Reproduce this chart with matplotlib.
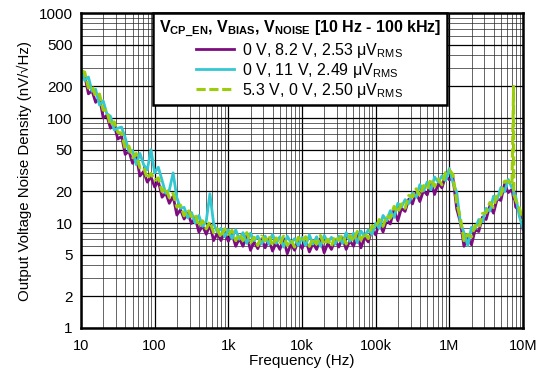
import matplotlib
matplotlib.use("Agg")
import matplotlib.pyplot as plt
from matplotlib.ticker import FixedLocator, FixedFormatter, LogLocator, NullFormatter

plt.rcParams['font.family'] = ['Liberation Sans', 'DejaVu Sans']
plt.rcParams['mathtext.fontset'] = 'custom'
plt.rcParams['mathtext.rm'] = 'Liberation Sans'
plt.rcParams['mathtext.it'] = 'Liberation Sans:italic'
plt.rcParams['mathtext.bf'] = 'Liberation Sans:bold'

# frequency points (Hz)
freq = [10, 11.2, 12.6, 14.1, 15.8, 17.8, 20, 22.4, 25.1, 28.2,
        31.6, 35.5, 39.8, 44.7, 50.1, 56.2, 63.1, 70.8, 79.4, 89.1,
        100, 112, 126, 141, 158, 178, 200, 224, 251, 282,
        316, 355, 398, 447, 501, 562, 631, 708, 794, 891,
        1e3, 1.12e3, 1.26e3, 1.41e3, 1.58e3, 1.78e3, 2e3, 2.24e3, 2.51e3, 2.82e3,
        3.16e3, 3.55e3, 3.98e3, 4.47e3, 5.01e3, 5.62e3, 6.31e3, 7.08e3, 7.94e3, 8.91e3,
        1e4, 1.12e4, 1.26e4, 1.41e4, 1.58e4, 1.78e4, 2e4, 2.24e4, 2.51e4, 2.82e4,
        3.16e4, 3.55e4, 3.98e4, 4.47e4, 5.01e4, 5.62e4, 6.31e4, 7.08e4, 7.94e4, 8.91e4,
        1e5, 1.12e5, 1.26e5, 1.41e5, 1.58e5, 1.78e5, 2e5, 2.24e5, 2.51e5, 2.82e5,
        3.16e5, 3.55e5, 3.98e5, 4.47e5, 5.01e5, 5.62e5, 6.31e5, 7.08e5, 7.94e5, 8.91e5,
        1e6, 1.12e6, 1.26e6, 1.41e6, 1.58e6, 1.78e6, 2e6, 2.24e6, 2.51e6, 2.82e6,
        3.16e6, 3.55e6, 3.98e6, 4.47e6, 5.01e6, 5.62e6, 6.31e6, 7.08e6, 7.45e6, 7.5e6,
        7.94e6, 8.91e6, 1e7]

# 0 V, 8.2 V
noise_a = [241, 255, 170, 182, 141, 158, 100, 106, 80, 86,
           63, 67, 45, 48.5, 37, 43, 28, 31, 24.5, 27.5,
           22, 25, 17.6, 19.4, 15.4, 18, 11.9, 13.4, 10.9, 12.4,
           9.9, 11.2, 8.2, 9.4, 7.8, 9.6, 6.8, 8.0, 6.8, 8.2,
           6.7, 7.9, 6.0, 7.1, 6.0, 7.6, 5.5, 6.6, 5.7, 7.0,
           5.8, 7.0, 5.4, 6.5, 5.6, 7.1, 5.1, 6.3, 5.5, 6.7,
           5.7, 6.9, 5.3, 6.4, 5.6, 7.1, 5.2, 6.4, 5.6, 6.9,
           5.9, 7.2, 5.6, 6.8, 6.0, 7.8, 5.8, 7.3, 6.6, 8.7,
           7.7, 10.0, 8.2, 10.6, 9.8, 13.5, 10.5, 13.8, 12.9, 16.9,
           15.2, 19.7, 16.0, 20.4, 18.5, 24.6, 18.7, 23.8, 21.6, 28.0,
           25.8, 27.0, 13.6, 10.2, 6.0, 7.3, 6.2, 8.6, 8.3, 11.4,
           10.8, 14.6, 12.4, 17.0, 16.4, 23.5, 19.5, 20.9, 17.0, 20.4,
           14.2, 13.0, 8.8]

# 0 V, 11 V
noise_b = [300, 228, 246, 180, 188, 133, 146, 110, 104, 77,
           80, 82, 65, 48, 49, 36, 46, 36, 32, 50,
           30, 34, 25.5, 19.2, 20.5, 30, 17.4, 13.8, 14.1, 11.2,
           12.6, 10.0, 11.8, 9.3, 10.4, 19, 9.9, 8.2, 8.9, 7.4,
           8.6, 7.1, 8.6, 7.0, 8.1, 6.4, 8.0, 6.8, 7.5, 6.3,
           7.5, 6.3, 7.8, 6.4, 7.4, 5.9, 7.5, 6.5, 7.1, 6.1,
           7.3, 6.1, 7.7, 6.3, 7.4, 6.0, 7.6, 6.6, 7.3, 6.3,
           7.5, 6.4, 8.1, 6.7, 8.0, 6.5, 8.4, 7.5, 8.6, 7.8,
           9.9, 8.9, 11.8, 10.5, 13.1, 11.3, 15.4, 14.2, 16.7, 15.3,
           19.5, 17.6, 23.2, 20.2, 24.6, 20.7, 27.4, 24.5, 28.1, 25.3,
           33, 24.2, 19.7, 10.1, 8.1, 6.1, 9.1, 8.8, 10.8, 10.3,
           13.8, 13.0, 18.0, 16.8, 21.8, 19.8, 26, 21.6, 22.1, 18.4,
           18.2, 11.6, 9.0]

# 5.3 V, 0 V
noise_c = [280, 274, 193, 203, 160, 169, 119, 118, 85, 92,
           73, 72, 51, 54, 42, 46, 33.5, 34, 26.3, 29.7,
           25.5, 26.9, 20, 21.6, 17.4, 19.2, 14.2, 14.8, 11.7, 13.4,
           11.5, 12.1, 9.3, 10.5, 8.8, 10.3, 8.1, 8.8, 7.3, 8.8,
           7.8, 8.5, 6.8, 7.9, 6.8, 8.1, 6.5, 7.3, 6.1, 7.5,
           6.8, 7.6, 6.1, 7.2, 6.3, 7.5, 6.1, 6.9, 5.9, 7.3,
           6.6, 7.4, 6.0, 7.1, 6.3, 7.6, 6.2, 7.0, 6.0, 7.5,
           6.85, 7.7, 6.3, 7.6, 6.7, 8.3, 6.9, 8.0, 7.1, 9.4,
           9.0, 10.8, 9.3, 11.8, 11.1, 14.4, 12.6, 15.2, 13.8, 18.3,
           17.7, 21.2, 18.2, 22.7, 20.9, 26.2, 22.3, 26.3, 23.1, 30.3,
           32, 29, 15.5, 11.3, 6.8, 7.8, 7.4, 9.5, 8.9, 12.3,
           12.5, 15.7, 14.1, 18.9, 18.5, 25, 25, 23.1, 200, 19,
           16.5, 14, 10.5]

series_labels = [r"0 V, 8.2 V, 2.53 μV$_\mathregular{RMS}$",
                 r"0 V, 11 V, 2.49 μV$_\mathregular{RMS}$",
                 r"5.3 V, 0 V, 2.50 μV$_\mathregular{RMS}$"]
legend_title = (r"V$_\mathbf{CP\_EN}$, V$_\mathbf{BIAS}$, V$_\mathbf{NOISE}$"
                " [10 Hz - 100 kHz]")

x_ticks = [10, 100, 1e3, 1e4, 1e5, 1e6, 1e7]
x_tick_labels = ["10", "100", "1k", "10k", "100k", "1M", "10M"]
y_ticks = [1, 2, 5, 10, 20, 50, 100, 200, 500, 1000]
y_tick_labels = ["1", "2", "5", "10", "20", "50", "100", "200", "500", "1000"]

fig = plt.figure(figsize=(5.39, 3.79), dpi=100)
ax = fig.add_axes([0.1503, 0.1346, 0.820, 0.831])

ax.plot(freq, noise_a, color='#7d0c80', lw=2.0, label=series_labels[0])
ax.plot(freq, noise_b, color='#33c7d2', lw=2.0, label=series_labels[1])
ax.plot(freq, noise_c, color='#9acd0a', lw=2.2, ls=(0, (3, 1.2)), label=series_labels[2])

ax.set_xscale('log')
ax.set_yscale('log')
ax.set_xlim(10, 1e7)
ax.set_ylim(1, 1000)

ax.xaxis.set_major_locator(FixedLocator(x_ticks))
ax.xaxis.set_major_formatter(FixedFormatter(x_tick_labels))
ax.yaxis.set_major_locator(FixedLocator(y_ticks))
ax.yaxis.set_major_formatter(FixedFormatter(y_tick_labels))
ax.xaxis.set_minor_locator(LogLocator(base=10, subs=range(2, 10)))
ax.xaxis.set_minor_formatter(NullFormatter())
ax.yaxis.set_minor_locator(LogLocator(base=10, subs=[3, 4, 6, 7, 8, 9]))
ax.yaxis.set_minor_formatter(NullFormatter())

ax.grid(True, which='major', color='black', lw=0.9)
ax.grid(True, which='minor', color='#222222', lw=0.7, alpha=0.7)
ax.set_axisbelow(True)
ax.tick_params(which='both', length=0)
ax.tick_params(axis='x', pad=8, labelsize=10.5)
ax.tick_params(axis='y', pad=6, labelsize=11)
for s in ax.spines.values():
    s.set_linewidth(1.8)
    s.set_color('black')

ax.set_xlabel("Frequency (Hz)", fontsize=11, labelpad=1)
ax.set_ylabel("Output Voltage Noise Density (nV/√Hz)", fontsize=10.8, labelpad=5)

leg = ax.legend(loc='upper left', bbox_to_anchor=(0.163, 1.0, 0.676, 0.0),
                title=legend_title, title_fontproperties={'weight': 'bold', 'size': 11.5},
                fontsize=11.5, alignment='center', fancybox=False, framealpha=1,
                edgecolor='black', borderpad=0.35, labelspacing=0.05,
                handlelength=2.4, handletextpad=0.5, borderaxespad=0)
leg.get_frame().set_linewidth(1.8)
leg.set_zorder(5)

fig.savefig("out.png", dpi=100)
